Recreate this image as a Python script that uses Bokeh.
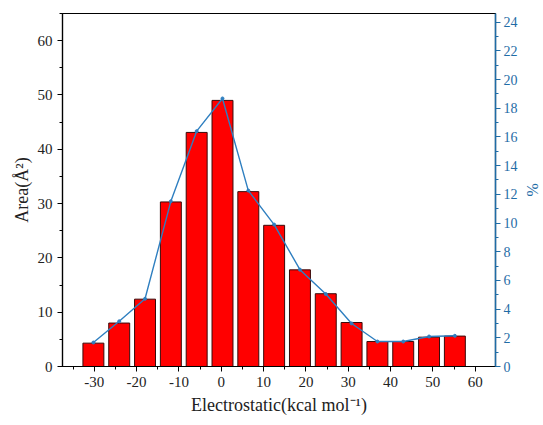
from bokeh.plotting import figure
from bokeh.models import Range1d, LinearAxis, FixedTicker, NumeralTickFormatter
from bokeh.embed import file_html
from bokeh.resources import INLINE

# Bin centres (kcal/mol) of the electrostatic potential histogram
bin_centers = [-30.2, -24.1, -18.0, -11.9, -5.8, 0.3, 6.4, 12.5, 18.6, 24.7,
               30.8, 36.9, 43.0, 49.1, 55.2]
# Surface area in each bin (Å^2)
areas = [4.3, 8.0, 12.4, 30.3, 43.1, 49.0, 32.2, 26.0, 17.8, 13.4,
         8.1, 4.6, 4.6, 5.4, 5.6]
# Share of the total surface in each bin (%)
percents = [1.67, 3.15, 4.72, 11.51, 16.4, 18.68, 12.26, 9.89, 6.75, 5.05,
            3.0, 1.74, 1.74, 2.09, 2.14]

x_ticks = [-30, -20, -10, 0, 10, 20, 30, 40, 50, 60]
area_ticks = [0, 10, 20, 30, 40, 50, 60]
pct_ticks = list(range(0, 25, 2))

SERIF = "Liberation Serif"
BLUE_AXIS = "#1f6ca6"
BLUE_LINE = "#2f7fc0"

p = figure(width=543, height=425, output_backend="svg", toolbar_location=None,
           x_range=Range1d(-37.5, 64.8), y_range=Range1d(0, 65),
           min_border_left=62, min_border_right=47, min_border_top=13,
           min_border_bottom=59)
p.extra_y_ranges = {"pct": Range1d(0, 24.6)}

p.grid.visible = False
p.outline_line_color = "black"
p.outline_line_width = 1.2
p.background_fill_color = "white"
p.border_fill_color = "white"

p.vbar(x=bin_centers, top=areas, width=4.95, bottom=0,
       fill_color="#ff0000", line_color="#3a0a0a", line_width=1)

p.line(x=bin_centers, y=percents, y_range_name="pct",
       line_color=BLUE_LINE, line_width=1.4)
p.scatter(x=bin_centers, y=percents, y_range_name="pct", size=3,
          fill_color=BLUE_LINE, line_color=BLUE_LINE)

# Bottom axis
xa = p.xaxis[0]
xa.ticker = FixedTicker(ticks=x_ticks, minor_ticks=[v + 5 for v in [-40] + x_ticks])
xa.axis_label = "Electrostatic(kcal mol⁻¹)"

# Left axis
ya = p.yaxis[0]
ya.ticker = FixedTicker(ticks=area_ticks, minor_ticks=[v + 5 for v in area_ticks])
ya.axis_label = "Area(Å²)"

for ax in (xa, ya):
    ax.formatter = NumeralTickFormatter(format="0")
    ax.axis_line_color = "black"
    ax.axis_line_width = 1.2
    ax.major_tick_line_color = "black"
    ax.minor_tick_line_color = "black"
    ax.major_tick_out = 5
    ax.major_tick_in = 0
    ax.minor_tick_out = 3
    ax.minor_tick_in = 0
    ax.major_label_text_font = SERIF
    ax.major_label_text_font_size = "15px"
    ax.major_label_text_color = "#222222"
    ax.axis_label_text_font = SERIF
    ax.axis_label_text_font_size = "18px"
    ax.axis_label_text_font_style = "normal"
    ax.axis_label_text_color = "#222222"

xa.axis_label_standoff = 5
ya.axis_label_standoff = 3

# Right axis for the percentage curve
ra = LinearAxis(y_range_name="pct",
                ticker=FixedTicker(ticks=pct_ticks,
                                   minor_ticks=[v + 1 for v in pct_ticks]),
                formatter=NumeralTickFormatter(format="0"),
                axis_label="%")
ra.axis_line_color = BLUE_AXIS
ra.axis_line_width = 1.5
ra.major_tick_line_color = BLUE_AXIS
ra.minor_tick_line_color = BLUE_AXIS
ra.major_tick_out = 5
ra.major_tick_in = 0
ra.minor_tick_out = 3
ra.minor_tick_in = 0
ra.major_label_standoff = 3
ra.major_label_text_font = SERIF
ra.major_label_text_font_size = "14px"
ra.major_label_text_color = BLUE_AXIS
ra.axis_label_text_font = SERIF
ra.axis_label_text_font_size = "16px"
ra.axis_label_text_font_style = "normal"
ra.axis_label_text_color = BLUE_AXIS
ra.axis_label_standoff = 3
p.add_layout(ra, "right")

open("out.html", "w").write(file_html(p, INLINE))
